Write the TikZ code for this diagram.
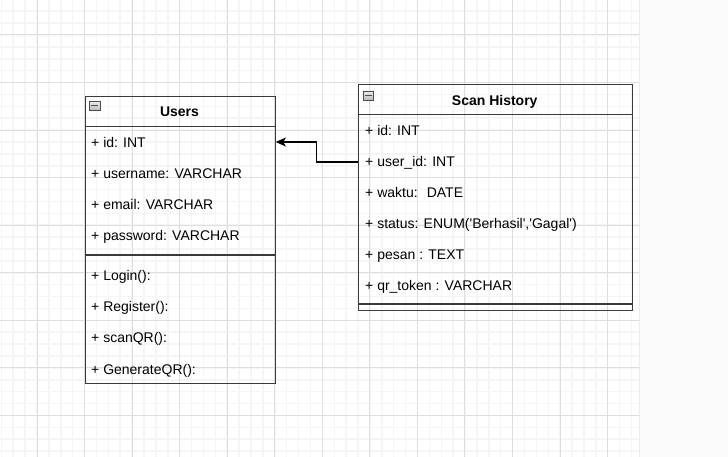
\documentclass[tikz,border=0pt]{standalone}
\usepackage{fontspec}
\setmainfont{Liberation Sans}
\usetikzlibrary{arrows.meta}
\definecolor{gridminor}{HTML}{F5F5F5}
\definecolor{gridmajor}{HTML}{DEDEDE}
\definecolor{sidepanel}{HTML}{FAFAFA}
\definecolor{boxline}{HTML}{3A3A3A}
\tikzset{
  umlbox/.style={draw=boxline, line width=1.3bp, anchor=north west, inner sep=0pt},
  boxrule/.style={draw=boxline, line width=1.3bp},
  umlhead/.style={font=\fontsize{14bp}{16bp}\selectfont\bfseries, anchor=base, inner sep=0pt},
  umlrow/.style={font=\fontsize{14bp}{16bp}\selectfont, anchor=base west, inner sep=0pt},
  collapse/.style={draw=black!70, line width=0.8bp, top color=gray!15, bottom color=gray!55,
    minimum width=10.5bp, minimum height=9.5bp, inner sep=0pt,
    path picture={\draw[line width=1.3bp] ([xshift=2bp]path picture bounding box.west) -- ([xshift=-2bp]path picture bounding box.east);}},
  assoc/.style={-{Stealth[length=10bp,width=9bp,inset=2.5bp]}, line width=1.2bp, black}
}
\newcommand{\sq}{\textquotesingle}
\begin{document}
\begin{tikzpicture}[x=1bp, y=-1bp]
      \useasboundingbox (0,0) rectangle (728,457);
      \fill[white] (0,0) rectangle (640,457);
      \foreach \i in {0,...,53}
        \draw[gridminor, line width=1.5bp] ({1.33+\i*11.89},0) -- ++(0,457);
      \foreach \j in {0,...,38}
        \draw[gridminor, line width=1.5bp] (0,{11.2+\j*11.89}) -- ++(639,0);
      \foreach \i in {0,...,12}
        \draw[gridmajor, line width=1bp] ({37+\i*47.55},0) -- ++(0,457);
      \foreach \j in {0,...,8}
        \draw[gridmajor, line width=1bp] (0,{35+\j*47.55}) -- ++(639,0);
      \fill[sidepanel] (640,0) rectangle (728,457);
      \draw[gray!15, line width=1bp] (639.5,0) -- (639.5,457);

      \node[umlbox, minimum width=190bp, minimum height=287bp] (users) at (84.5,96) {};
      \draw[boxrule] (users.west |- 0,126.5) -- (users.east |- 0,126.5);
      \draw[boxrule] (users.west |- 0,255) -- (users.east |- 0,255);
      \node[collapse] (usersicon) at (94.7,105.8) {};
      \node[umlhead] (usershead) at (179.5,116.5) {Users};

      \node[umlrow] (uid) at (91,148) {+ id: INT};
      \node[umlrow] (uname) at (91,179) {+ username: VARCHAR};
      \node[umlrow] (umail) at (91,210) {+ email: VARCHAR};
      \node[umlrow] (upass) at (91,241) {+ password: VARCHAR};
      \node[umlrow] (ulogin) at (91,281) {+ Login():};
      \node[umlrow] (ureg) at (91,312) {+ Register():};
      \node[umlrow] (uscan) at (91,343) {+ scanQR():};
      \node[umlrow] (ugen) at (91,374) {+ GenerateQR():};

      \node[umlbox, minimum width=273.5bp, minimum height=226bp] (scan) at (358,84) {};
      \draw[boxrule] (scan.west |- 0,114.5) -- (scan.east |- 0,114.5);
      \draw[boxrule] (scan.west |- 0,304) -- (scan.east |- 0,304);
      \node[collapse] (scanicon) at (368.5,95.7) {};
      \node[umlhead] (scanhead) at (494.7,106) {Scan History};

      \node[umlrow] (sid) at (365,136) {+ id: INT};
      \node[umlrow] (suid) at (365,167) {+ user\_id: INT};
      \node[umlrow] (swaktu) at (365,198) {+ waktu: \ DATE};
      \node[umlrow] (sstatus) at (365,229) {+ status: ENUM(\sq Berhasil\sq,\sq Gagal\sq)};
      \node[umlrow] (spesan) at (365,260) {+ pesan : TEXT};
      \node[umlrow] (sqr) at (365,291) {+ qr\_token : VARCHAR};

      \draw[assoc] (scan.west |- 0,162) -- ++(-41.5,0) |- (users.east |- 0,142);
    \end{tikzpicture}
\end{document}
